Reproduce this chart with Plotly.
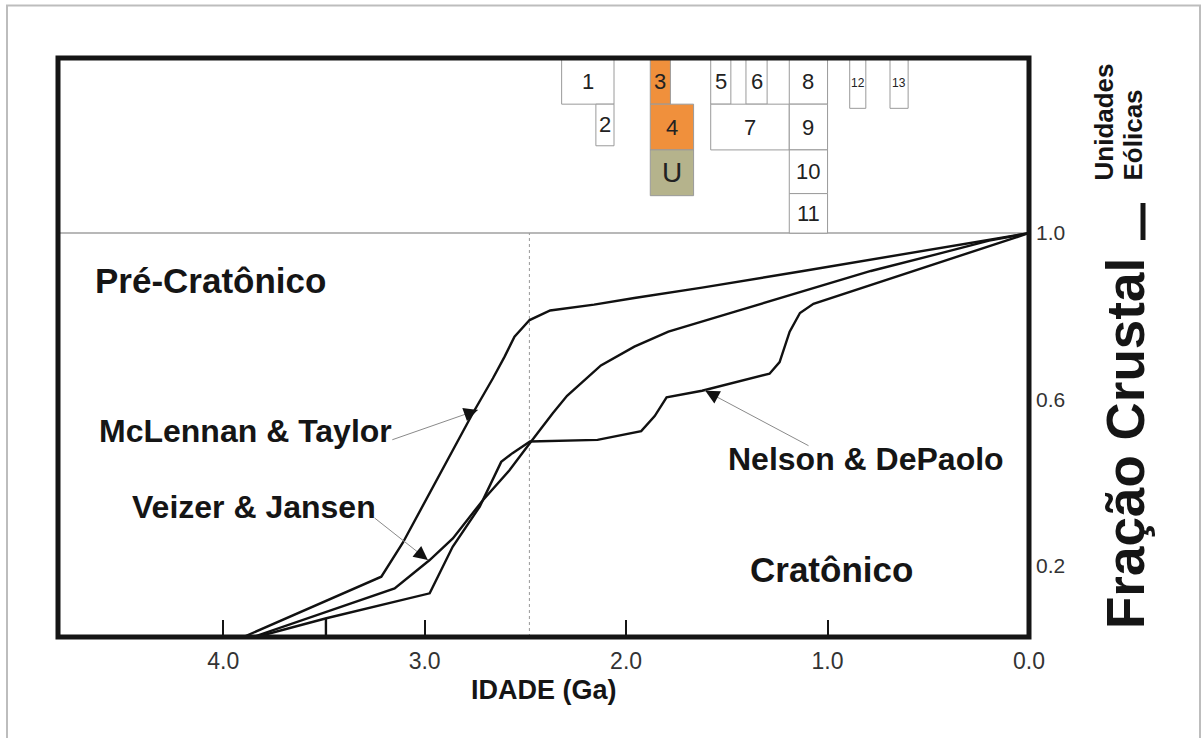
import math
import plotly.graph_objects as go

# ---------------- data ----------------
# McLennan & Taylor
mt_age = [3.900, 3.215, 3.109, 2.960, 2.761, 2.661, 2.603, 2.554, 2.479, 2.377,
          2.159, 1.959, 1.623, 1.121, 0.618, 0.283, 0.0]
mt_frac = [0.029, 0.174, 0.255, 0.390, 0.567, 0.651, 0.703, 0.751, 0.791, 0.814,
           0.828, 0.844, 0.869, 0.909, 0.950, 0.978, 1.0]

# Veizer & Jansen
vj_age = [3.852, 3.149, 2.975, 2.860, 2.711, 2.579, 2.479, 2.364, 2.293, 2.125,
          1.959, 1.790, 1.455, 1.121, 0.785, 0.451, 0.198, 0.0]
vj_frac = [0.029, 0.146, 0.214, 0.266, 0.358, 0.430, 0.494, 0.567, 0.609, 0.682,
           0.727, 0.763, 0.812, 0.861, 0.909, 0.950, 0.982, 1.0]

# Nelson & DePaolo (short vertical start at 3.5 Ga, then main curve)
nd_age = [3.49, 3.49, None, 3.835, 3.488, 2.975, 2.861, 2.727, 2.638, 2.620, 2.564,
          2.477, 2.142, 1.925, 1.858, 1.799, 1.623, 1.288, 1.238, 1.188, 1.137,
          1.070, 0.0]
nd_frac = [0.029, 0.074, None, 0.029, 0.074, 0.134, 0.246, 0.342, 0.430, 0.450, 0.471,
           0.499, 0.503, 0.524, 0.560, 0.605, 0.621, 0.662, 0.690, 0.763, 0.808,
           0.830, 1.0]

# Aeolian units (boxes above the 1.0 line)
unit_labels = ["1", "2", "3", "4", "U", "5", "6", "7", "8", "9", "10", "11", "12", "13"]
unit_age_old = [2.32, 2.15, 1.88, 1.88, 1.88, 1.58, 1.405, 1.58, 1.19, 1.19, 1.19, 1.19, 0.89, 0.69]
unit_age_young = [2.06, 2.06, 1.78, 1.665, 1.665, 1.48, 1.30, 1.19, 1.00, 1.00, 1.00, 1.00, 0.81, 0.60]
unit_low = [1.31, 1.21, 1.31, 1.20, 1.09, 1.31, 1.31, 1.20, 1.31, 1.20, 1.095, 1.0, 1.30, 1.30]
unit_high = [1.42, 1.31, 1.42, 1.31, 1.20, 1.42, 1.42, 1.31, 1.42, 1.31, 1.20, 1.095, 1.42, 1.42]
unit_kind = ["o", "o", "a", "a", "u", "o", "o", "o", "o", "o", "o", "o", "o", "o"]

x_tick_vals = [0, 1, 2, 3, 4]
x_tick_text = ["0.0", "1.0", "2.0", "3.0", "4.0"]
y_tick_vals = [0.2, 0.6, 1.0]
y_tick_text = ["0.2", "0.6", "1.0"]

boundary_age = 2.48

# arrows: (tail age, tail frac, tip age, tip frac)
arrow_mt = (3.168, 0.502, 2.736, 0.575)
arrow_vj = (3.256, 0.318, 2.984, 0.214)
arrow_nd = (1.087, 0.487, 1.607, 0.621)

# ---------------- figure ----------------
W, H = 1201, 738
ML, MR, MT_, MB = 58, 172, 58, 101
XR = [4.82, 0.0]
YR = [0.029, 1.421]
PW = W - ML - MR
PH = H - MT_ - MB
sx = PW / (XR[0] - XR[1])
sy = PH / (YR[1] - YR[0])

SANS = "Liberation Sans, Arial, sans-serif"

fig = go.Figure()
line_style = dict(color="#111111", width=2.4)
fig.add_trace(go.Scatter(x=mt_age, y=mt_frac, mode="lines", line=line_style, hoverinfo="skip"))
fig.add_trace(go.Scatter(x=vj_age, y=vj_frac, mode="lines", line=line_style, hoverinfo="skip"))
fig.add_trace(go.Scatter(x=nd_age, y=nd_frac, mode="lines", line=line_style, hoverinfo="skip",
                         connectgaps=False))

shapes = []
annotations = []

# 1.0 separator line
shapes.append(dict(type="line", xref="paper", yref="y", x0=0, x1=1, y0=1.0, y1=1.0,
                   line=dict(color="#a0a0a0", width=1.5), layer="below"))
# Archean/Proterozoic dotted boundary
shapes.append(dict(type="line", xref="x", yref="y", x0=boundary_age, x1=boundary_age,
                   y0=YR[0], y1=1.0, line=dict(color="#999999", width=1, dash="dot"),
                   layer="below"))

fills = {"o": "white", "a": "#F0903C", "u": "#B5B38C"}
for lab, a0, a1, lo, hi, k in zip(unit_labels, unit_age_old, unit_age_young,
                                   unit_low, unit_high, unit_kind):
    shapes.append(dict(type="rect", xref="x", yref="y", x0=a0, x1=a1, y0=lo, y1=hi,
                       line=dict(color="#9a9a9a", width=1), fillcolor=fills[k], layer="above"))
    size = 22
    if lab == "U":
        size = 28
    elif lab in ("12", "13"):
        size = 12
    annotations.append(dict(x=(a0 + a1) / 2, y=(lo + hi) / 2, xref="x", yref="y",
                            text=lab, showarrow=False, xanchor="center", yanchor="middle",
                            font=dict(family=SANS, size=size, color="#222222")))

# thick plot border
shapes.append(dict(type="rect", xref="paper", yref="paper", x0=0, x1=1, y0=0, y1=1,
                   line=dict(color="#151515", width=5), layer="above"))

def px_to_paper_x(px):
    return (px - ML) / PW
def py_to_paper_y(py):
    return (H - MB - py) / PH

# outer light frame
shapes.append(dict(type="rect", xref="paper", yref="paper",
                   x0=px_to_paper_x(7), x1=px_to_paper_x(1200),
                   y0=py_to_paper_y(760), y1=py_to_paper_y(5.5),
                   line=dict(color="#bdbdbd", width=2), layer="below"))
# separator bar between right titles
shapes.append(dict(type="line", xref="paper", yref="paper",
                   x0=px_to_paper_x(1143), x1=px_to_paper_x(1143),
                   y0=py_to_paper_y(240), y1=py_to_paper_y(203),
                   line=dict(color="#151515", width=5)))

# region labels
bold = dict(family=SANS, color="#151515")
annotations += [
    dict(x=4.646, y=0.887, text="<b>Pré-Cratônico</b>", xanchor="left", yanchor="middle",
         font=dict(size=35, **bold)),
    dict(x=4.626, y=0.5245, text="<b>McLennan &amp; Taylor</b>", xanchor="left", yanchor="middle",
         font=dict(size=32, **bold)),
    dict(x=4.463, y=0.342, text="<b>Veizer &amp; Jansen</b>", xanchor="left", yanchor="middle",
         font=dict(size=32, **bold)),
    dict(x=1.504, y=0.457, text="<b>Nelson &amp; DePaolo</b>", xanchor="left", yanchor="middle",
         font=dict(size=32, **bold)),
    dict(x=1.395, y=0.192, text="<b>Cratônico</b>", xanchor="left", yanchor="middle",
         font=dict(size=35, **bold)),
]
for a in annotations[-5:]:
    a.update(xref="x", yref="y", showarrow=False)

# arrows
for (ta, tf, ha, hf) in (arrow_mt, arrow_vj, arrow_nd):
    annotations.append(dict(x=ha, y=hf, ax=ta, ay=tf, xref="x", yref="y", axref="x", ayref="y",
                            text="", showarrow=True, arrowhead=0, arrowwidth=1,
                            arrowcolor="#8a8a8a", standoff=0))
    dxp = -(ta - ha) * sx
    dyp = -(tf - hf) * sy
    n = math.hypot(dxp, dyp)
    L = 13
    annotations.append(dict(x=ha, y=hf, ax=dxp / n * L, ay=dyp / n * L, xref="x", yref="y",
                            text="", showarrow=True, arrowhead=2, arrowsize=1.4, arrowwidth=2,
                            arrowcolor="#111111", standoff=0))

# axis title and right-side titles
annotations += [
    dict(x=0.5, y=py_to_paper_y(690), xref="paper", yref="paper", text="<b>IDADE (Ga)</b>",
         showarrow=False, xanchor="center", yanchor="middle",
         font=dict(family=SANS, size=27, color="#151515")),
    dict(x=px_to_paper_x(1125), y=py_to_paper_y(444), xref="paper", yref="paper",
         text="<b>Fração Crustal</b>", textangle=-90, showarrow=False,
         xanchor="center", yanchor="middle", font=dict(family=SANS, size=53, color="#151515")),
    dict(x=px_to_paper_x(1103), y=py_to_paper_y(183), xref="paper", yref="paper",
         text="<b>Unidades</b>", textangle=-90, showarrow=False,
         xanchor="center", yanchor="bottom", font=dict(family=SANS, size=26, color="#151515")),
    dict(x=px_to_paper_x(1132), y=py_to_paper_y(183), xref="paper", yref="paper",
         text="<b>Eólicas</b>", textangle=-90, showarrow=False,
         xanchor="center", yanchor="bottom", font=dict(family=SANS, size=26, color="#151515")),
]

fig.update_layout(
    width=W, height=H, autosize=False,
    margin=dict(l=ML, r=MR, t=MT_, b=MB, pad=0),
    paper_bgcolor="white", plot_bgcolor="white",
    showlegend=False,
    shapes=shapes, annotations=annotations,
    xaxis=dict(range=XR, showgrid=False, zeroline=False, showline=False,
               tickmode="array", tickvals=x_tick_vals, ticktext=x_tick_text,
               ticks="inside", ticklen=17, tickwidth=2, tickcolor="#151515",
               tickfont=dict(family=SANS, size=23, color="#333333"),
               ticklabelstandoff=8),
    yaxis=dict(range=YR, side="right", showgrid=False, zeroline=False, showline=False,
               tickmode="array", tickvals=y_tick_vals, ticktext=y_tick_text,
               ticks="", tickfont=dict(family=SANS, size=21, color="#333333"),
               ticklabelstandoff=6),
)

fig.write_html("out.html",
               config={"displayModeBar": False},
               post_script="document.body.style.margin='0';document.body.style.padding='0';"
                           "document.body.style.overflow='hidden';")
